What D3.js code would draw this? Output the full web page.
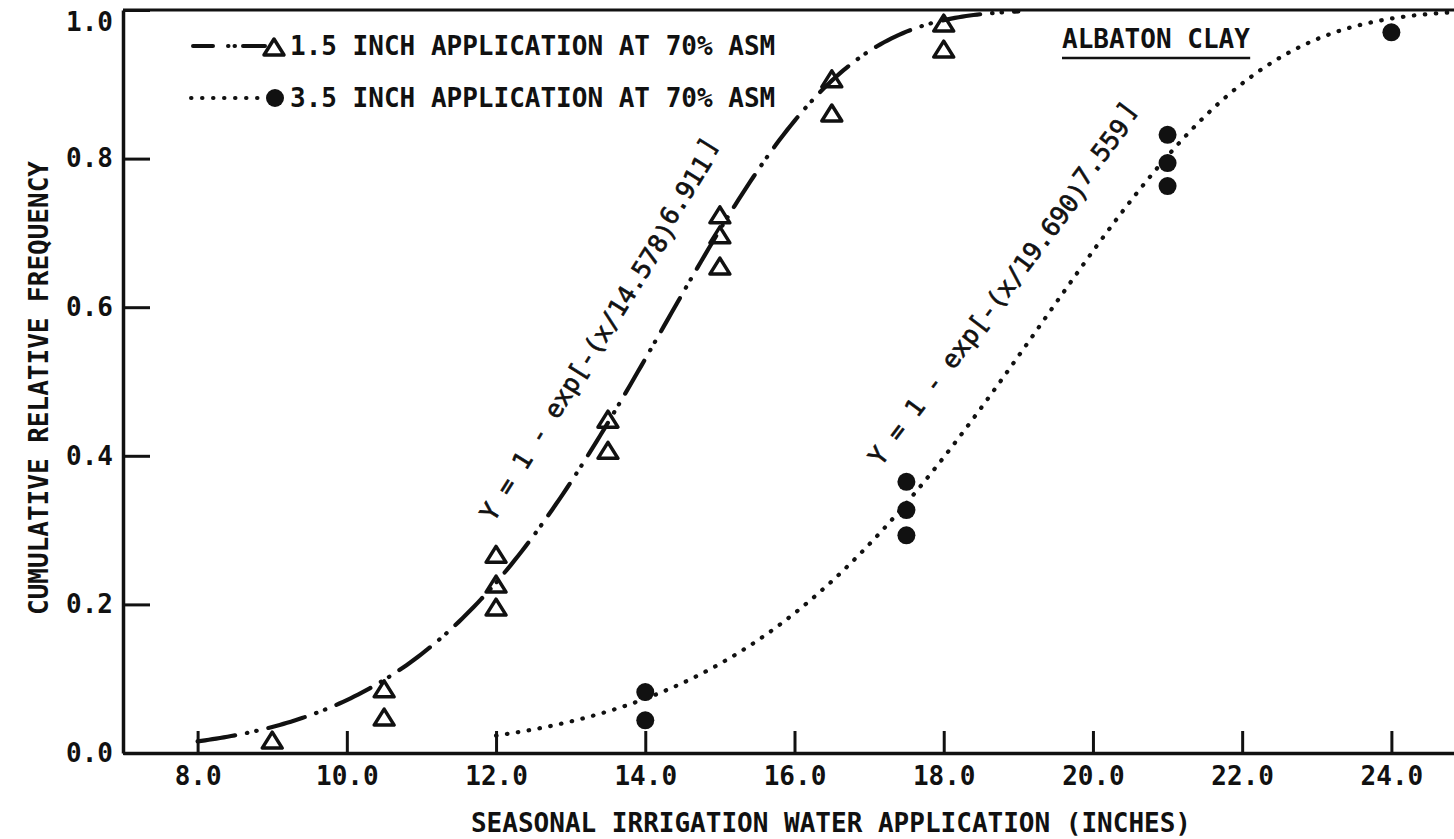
<!DOCTYPE html>
<html>
<head>
<meta charset="utf-8">
<script src="https://cdn.jsdelivr.net/npm/d3@7"></script>
<style>
  html, body { margin: 0; padding: 0; background: #fff; }
  svg { display: block; }
  text { font-family: "DejaVu Sans Mono", monospace; fill: #111; }
</style>
</head>
<body>
<svg id="chart" width="1454" height="839"></svg>
<script>
// Observed cumulative relative frequencies, 1.5 inch application at 70% ASM
const lightX = [9.0, 10.5, 10.5, 12.0, 12.0, 12.0, 13.5, 13.5, 15.0, 15.0, 15.0, 16.5, 16.5, 18.0, 18.0];
const lightY = [0.016, 0.085, 0.047, 0.266, 0.226, 0.195, 0.448, 0.406, 0.723, 0.696, 0.654, 0.906, 0.860, 0.981, 0.946];

// Observed cumulative relative frequencies, 3.5 inch application at 70% ASM
const heavyX = [14.0, 14.0, 17.5, 17.5, 17.5, 21.0, 21.0, 21.0, 24.0];
const heavyY = [0.082, 0.044, 0.365, 0.327, 0.293, 0.832, 0.794, 0.763, 0.970];

// Fitted Weibull parameters: Y = 1 - exp[-(x/scale)^shape]
const lightFit = { scale: 14.578, shape: 6.911, from: 8.0, to: 19.0 };
const heavyFit = { scale: 19.690, shape: 7.559, from: 12.0, to: 25.0 };

// Axis ticks
const xTicks = [8, 10, 12, 14, 16, 18, 20, 22, 24];
const yTicks = [0, 0.2, 0.4, 0.6, 0.8, 1.0];

const legendLabels = ["1.5 INCH APPLICATION AT 70% ASM", "3.5 INCH APPLICATION AT 70% ASM"];
const soilName = "ALBATON CLAY";
const xTitle = "SEASONAL IRRIGATION WATER APPLICATION (INCHES)";
const yTitle = "CUMULATIVE RELATIVE FREQUENCY";

const svg = d3.select("#chart");
const ink = "#111";

const x = d3.scaleLinear().domain([7, 25]).range([123, 1466]);
const y = d3.scaleLinear().domain([0, 1]).range([753, 10]);

// ---- axes ----
const xAxis = d3.axisBottom(x)
  .tickValues(xTicks)
  .tickFormat(d3.format(".1f"))
  .tickSizeInner(-22)
  .tickSizeOuter(0)
  .tickPadding(14);

const gx = svg.append("g").attr("transform", `translate(0,${y(0)})`).call(xAxis);
gx.select(".domain").attr("stroke", ink).attr("stroke-width", 3.5);
gx.selectAll(".tick line").attr("stroke", ink).attr("stroke-width", 3);
gx.selectAll(".tick text")
  .attr("fill", ink)
  .style("font-size", "26px").style("font-weight", "bold")
  .style("font-family", "DejaVu Sans Mono, monospace");

const yAxis = d3.axisLeft(y)
  .tickValues(yTicks)
  .tickFormat(d3.format(".1f"))
  .tickSizeInner(-27)
  .tickSizeOuter(0)
  .tickPadding(10);

const gy = svg.append("g").attr("transform", `translate(${x(7)},0)`).call(yAxis);
gy.select(".domain").attr("stroke", ink).attr("stroke-width", 3.5);
gy.selectAll(".tick line").attr("stroke", ink).attr("stroke-width", 3);
gy.selectAll(".tick text")
  .attr("fill", ink)
  .style("font-size", "26px").style("font-weight", "bold")
  .style("font-family", "DejaVu Sans Mono, monospace");
// keep the top label fully on the page
gy.selectAll(".tick").filter(d => d === 1).select("text").attr("y", 12);

// top frame line at Y = 1.0
svg.append("line")
  .attr("x1", x(7)).attr("x2", x(25))
  .attr("y1", y(1)).attr("y2", y(1))
  .attr("stroke", ink).attr("stroke-width", 3);

// ---- axis titles ----
svg.append("text")
  .attr("x", 831).attr("y", 832)
  .attr("text-anchor", "middle")
  .style("font-size", "26px").style("font-weight", "bold")
  .text(xTitle);

svg.append("text")
  .attr("transform", "translate(48,388) rotate(-90)")
  .attr("text-anchor", "middle")
  .style("font-size", "26px").style("font-weight", "bold")
  .text(yTitle);

// ---- fitted curves ----
function weibull(p) {
  return d3.range(p.from, p.to + 1e-9, 0.05).map(v => [v, 1 - Math.exp(-Math.pow(v / p.scale, p.shape))]);
}
const line = d3.line().x(d => x(d[0])).y(d => y(d[1])).curve(d3.curveLinear);

const dashDotDot = "38 12 0.5 9 0.5 12";
const dotted = "0.5 10.5";

svg.append("path")
  .datum(weibull(lightFit))
  .attr("d", line)
  .attr("fill", "none").attr("stroke", ink).attr("stroke-width", 4.2)
  .attr("stroke-linecap", "round")
  .attr("stroke-dasharray", dashDotDot);

svg.append("path")
  .datum(weibull(heavyFit))
  .attr("d", line)
  .attr("fill", "none").attr("stroke", ink).attr("stroke-width", 4.2)
  .attr("stroke-linecap", "round")
  .attr("stroke-dasharray", dotted);

// ---- markers ----
const tri = "M0,-9 L10,7 L-10,7 Z";

svg.append("g").selectAll("path")
  .data(d3.zip(lightX, lightY))
  .join("path")
  .attr("transform", d => `translate(${x(d[0])},${y(d[1])})`)
  .attr("d", tri)
  .attr("fill", "none").attr("stroke", ink).attr("stroke-width", 3.5)
  .attr("stroke-linejoin", "round");

svg.append("g").selectAll("circle")
  .data(d3.zip(heavyX, heavyY))
  .join("circle")
  .attr("cx", d => x(d[0])).attr("cy", d => y(d[1]))
  .attr("r", 9).attr("fill", ink);

// ---- equation labels along the curves ----
function equation(p, ax, ay, angle) {
  const t = svg.append("text")
    .attr("transform", `translate(${x(ax)},${y(ay)}) rotate(${angle})`)
    .attr("stroke", ink).attr("stroke-width", 0.7)
    .style("font-size", "25px");
  t.append("tspan").text(`Y = 1 - exp[-(x/${p.scale.toFixed(3)})`);
  t.append("tspan").attr("dy", -5).text(p.shape.toFixed(3));
  t.append("tspan").attr("dy", -5).attr("dx", 4).text("]");
}
equation(lightFit, 11.97, 0.31, -58);
equation(heavyFit, 17.16, 0.385, -53);

// ---- legend ----
const lg = svg.append("g");
lg.append("path")
  .attr("d", `M193,46 L265,46`)
  .attr("stroke", ink).attr("stroke-width", 4).attr("stroke-linecap", "round")
  .attr("stroke-dasharray", "20 15 0.5 6 0.5 8 40");
lg.append("path").attr("transform", "translate(274,48)").attr("d", tri)
  .attr("fill", "none").attr("stroke", ink).attr("stroke-width", 3.5).attr("stroke-linejoin", "round");
lg.append("text").attr("x", 290).attr("y", 55)
  .style("font-size", "26px").style("font-weight", "bold").text(legendLabels[0]);

lg.append("path")
  .attr("d", `M191,98 L262,98`)
  .attr("stroke", ink).attr("stroke-width", 4).attr("stroke-linecap", "round")
  .attr("stroke-dasharray", dotted);
lg.append("circle").attr("cx", 275).attr("cy", 98).attr("r", 9).attr("fill", ink);
lg.append("text").attr("x", 290).attr("y", 107)
  .style("font-size", "26px").style("font-weight", "bold").text(legendLabels[1]);

// ---- soil name ----
const soil = svg.append("text").attr("x", 1062).attr("y", 48)
  .style("font-size", "26px").style("font-weight", "bold").text(soilName);
const bb = soil.node().getBBox();
svg.append("line")
  .attr("x1", bb.x).attr("x2", bb.x + bb.width)
  .attr("y1", 58).attr("y2", 58)
  .attr("stroke", ink).attr("stroke-width", 2.5);
</script>
</body>
</html>
